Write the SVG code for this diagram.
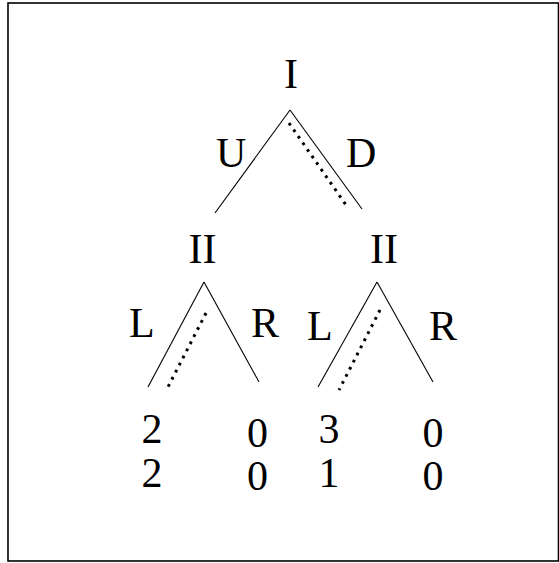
<svg xmlns="http://www.w3.org/2000/svg" width="559" height="563" viewBox="0 0 559 563">
<style>
text{font-family:"Liberation Serif","Times New Roman",serif;font-size:42px;fill:#000}
.m{text-anchor:middle}
.e{stroke:#000;stroke-width:1.1;fill:none}
.d{stroke:#000;stroke-width:3;stroke-dasharray:2.8 5.2;fill:none}
</style>
<rect x="8" y="3" width="550.5" height="558" fill="#fff" stroke="#000" stroke-width="1.6"/>
<g id="connectors">
<line class="e" x1="290" y1="110" x2="215" y2="213"/>
<line class="e" x1="290" y1="110" x2="362" y2="209"/>
<line class="d" x1="289" y1="123" x2="346" y2="205"/>
<line class="e" x1="204" y1="282" x2="148" y2="387"/>
<line class="e" x1="204" y1="282" x2="259" y2="382"/>
<line class="d" x1="206" y1="313" x2="168" y2="387"/>
<line class="e" x1="377" y1="282" x2="318" y2="387"/>
<line class="e" x1="377" y1="282" x2="433" y2="382"/>
<line class="d" x1="380" y1="310" x2="339" y2="390"/>
</g>
<g id="labels">
<text x="216" y="167">U</text>
<text x="346" y="167">D</text>
<text x="129" y="337">L</text>
<text x="251" y="337">R</text>
<text x="307" y="340">L</text>
<text x="429" y="340">R</text>
</g>
<g id="n1"><text class="m" x="291" y="88">I</text></g>
<g id="n2"><text class="m" x="202.5" y="263">II</text></g>
<g id="n3"><text class="m" x="384" y="263">II</text></g>
<g id="t1"><text class="m" x="152" y="443">2</text><text class="m" x="152" y="487">2</text></g>
<g id="t2"><text class="m" x="257.5" y="447">0</text><text class="m" x="257.5" y="490">0</text></g>
<g id="t3"><text class="m" x="329" y="443">3</text><text class="m" x="329" y="487">1</text></g>
<g id="t4"><text class="m" x="433" y="447">0</text><text class="m" x="433" y="490">0</text></g>
</svg>
